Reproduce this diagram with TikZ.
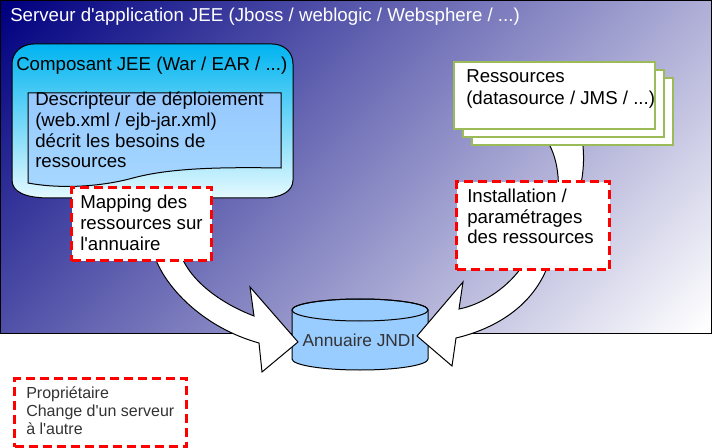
\documentclass[tikz,border=0pt]{standalone}
\usepackage{fontspec}
\setmainfont{Liberation Sans}[Ligatures=TeXOff]
\usetikzlibrary{positioning, calc}
\definecolor{srvnavy}{RGB}{0,0,128}
\definecolor{compcyan}{RGB}{0,180,240}
\definecolor{compwhite}{RGB}{228,249,255}
\definecolor{desctop}{RGB}{150,200,255}
\definecolor{descbottom}{RGB}{166,216,255}
\definecolor{resgreen}{RGB}{155,187,89}
\definecolor{jndiblue}{RGB}{153,204,255}
\pgfdeclareverticalshading{srvgrad}{100bp}{color(0bp)=(white); color(15bp)=(white); color(85bp)=(srvnavy); color(100bp)=(srvnavy)}

\begin{document}
\begin{tikzpicture}[x=0.75pt, y=-0.75pt,
    every node/.style={inner sep=0pt, font=\fontsize{14}{15.5}\selectfont},
    outline/.style={draw=black, line width=0.75pt},
    redbox/.style={draw=red, line width=2.4pt, dash pattern=on 6.75pt off 3.75pt, fill=white, anchor=north west},
    resbox/.style={draw=resgreen, line width=1.1pt, fill=white},
    bigarrow/.style={outline, fill=white, line join=miter},
    txt/.style={anchor=base west, align=left},
    smalltxt/.style={txt, text=black!80, font=\fontsize{12}{13.5}\selectfont}]
    \useasboundingbox (0,0) rectangle (712,448);
    \shade[shading=srvgrad, shading angle=45] (0.5,0.5) rectangle (711,333);
    \draw[outline] (0.5,0.5) rectangle (711,333);
    \node[txt, text=white] (srvtitle) at (10,22) {Serveur d'application JEE (Jboss / weblogic / Websphere / ...)};
    \shadedraw[top color=compcyan, bottom color=compwhite, outline]
        (12,64) .. controls (12,52) and (22,44) .. (34,44) -- (272,44)
        .. controls (284,44) and (293,52) .. (293,64) -- (293,180)
        .. controls (293,192) and (280,198) .. (263,198) -- (50,198)
        .. controls (25,198) and (12,192) .. (12,180) -- cycle;
    \node[txt] (comptitle) at (16,71) {Composant JEE (War / EAR / ...)};
    \shadedraw[top color=desctop, bottom color=descbottom, outline]
        (28,93) -- (281,93) -- (281,168)
        .. controls (220,167) and (170,168) .. (133,178)
        .. controls (100,187) and (60,189) .. (28,183) -- cycle;
    \node[txt] (desctext) at (35,168) {Descripteur de déploiement\\(web.xml / ejb-jar.xml)\\décrit les besoins de\\ressources};
    \filldraw[fill=jndiblue, outline] (292,310) -- (292,359)
        arc[start angle=180, end angle=0, x radius=68, y radius=11] -- (428,310)
        arc[start angle=0, end angle=-180, x radius=68, y radius=11] -- cycle;
    \draw[outline] (360,310) ellipse[x radius=68, y radius=11];
    \node[smalltxt, anchor=base, font=\fontsize{13}{14}\selectfont] (jnditext) at (359,346) {Annuaire JNDI};
    \filldraw[bigarrow] (150,195) -- (156,260)
        .. controls (168,290) and (205,328) .. (259,343)
        -- (262,372) -- (298,342) -- (250,287) -- (254,316)
        .. controls (225,305) and (195,285) .. (183,260) -- (175,195) -- cycle;
    \filldraw[bigarrow] (545,138)
        .. controls (558,155) and (562,185) .. (555,215)
        .. controls (548,245) and (535,260) .. (521,268)
        .. controls (505,290) and (480,305) .. (459,309)
        -- (463,282) -- (417,336) -- (452,366) -- (456,338)
        .. controls (490,330) and (530,310) .. (547,268)
        .. controls (565,230) and (590,190) .. (582,138) -- cycle;
    \foreach \k in {2,1,0}
        \draw[resbox] ({454+9*\k},{62+8*\k}) rectangle +(201,67);
    \node[txt, font=\fontsize{14}{16.5}\selectfont] (restext) at (466,105) {Ressources\\(datasource / JMS / ...)};
    \node[redbox, minimum width=105pt, minimum height=54.75pt] (mapbox) at (70,186) {};
    \node[txt, font=\fontsize{14}{15.75}\selectfont] (maptext) at (80,251) {Mapping des\\ressources sur\\l'annuaire};
    \node[redbox, minimum width=114.75pt, minimum height=66pt] (instbox) at (455,180) {};
    \node[txt, font=\fontsize{14}{15.4}\selectfont] (insttext) at (467,244) {Installation /\\paramétrages\\des ressources};
    \node[redbox, minimum width=129pt, minimum height=51pt] (propbox) at (13,377) {};
    \node[smalltxt] (proptext) at (26,434) {Propriétaire\\Change d'un serveur\\à l'autre};
\end{tikzpicture}
\end{document}
